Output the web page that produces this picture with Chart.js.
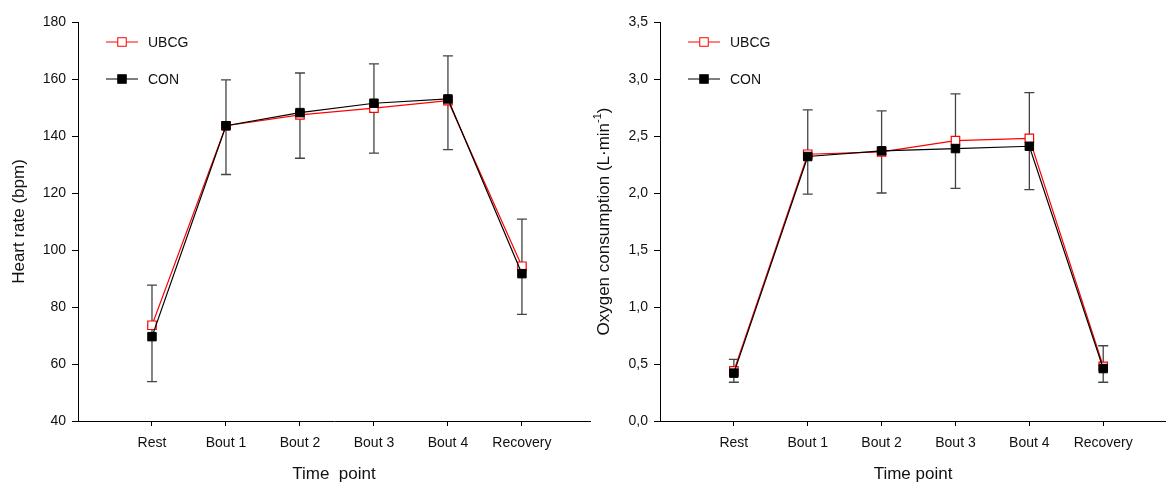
<!DOCTYPE html>
<html>
<head>
<meta charset="utf-8">
<script src="https://cdn.jsdelivr.net/npm/chart.js@4.4.1/dist/chart.umd.min.js"></script>
<style>
    html, body { margin: 0; padding: 0; background: #fff; }
    body { width: 1166px; height: 485px; position: relative; overflow: hidden; }
    .panel { position: absolute; top: 0; height: 485px; }
    #panelHr { left: 0; width: 600px; }
    #panelVo2 { left: 583px; width: 583px; }
</style>
</head>
<body>
<div class="panel" id="panelHr"><canvas id="graficoHr" width="600" height="485"></canvas></div>
<div class="panel" id="panelVo2"><canvas id="graficoVo2" width="583" height="485"></canvas></div>
<script>
const timePoints = ['Rest', 'Bout 1', 'Bout 2', 'Bout 3', 'Bout 4', 'Recovery'];
const seriesNames = ['UBCG', 'CON'];

// heart rate (bpm)
const hrUbcg = [73.6, 143.6, 147.4, 149.8, 152.4, 94.3];
const hrCon = [69.6, 143.6, 148.2, 151.5, 153.0, 91.7];
const hrErrHigh = [87.7, 159.7, 162.1, 165.3, 168.1, 110.8];
const hrErrLow = [53.8, 126.5, 132.2, 134.0, 135.2, 77.4];
const hrTicks = [40, 60, 80, 100, 120, 140, 160, 180];

// oxygen consumption (L/min)
const vo2Ubcg = [0.44, 2.34, 2.36, 2.46, 2.48, 0.48];
const vo2Con = [0.42, 2.32, 2.37, 2.39, 2.41, 0.46];
const vo2ErrHigh = [0.54, 2.73, 2.72, 2.87, 2.88, 0.66];
const vo2ErrLow = [0.34, 1.99, 2.00, 2.04, 2.03, 0.34];
const vo2Ticks = [0, 0.5, 1.0, 1.5, 2.0, 2.5, 3.0, 3.5];

const FONT = "'Liberation Sans', Arial, sans-serif";
const TEXT = '#111';

const errorBarsPlugin = {
    id: 'errorBars',
    beforeDatasetsDraw(chart, args, opts) {
        const { ctx, scales } = chart;
        ctx.save();
        ctx.strokeStyle = '#444';
        ctx.lineWidth = 1.3;
        opts.high.forEach((hi, i) => {
            const px = scales.x.getPixelForValue(i);
            const top = scales.y.getPixelForValue(hi);
            const bot = scales.y.getPixelForValue(opts.low[i]);
            ctx.beginPath();
            ctx.moveTo(px, top);
            ctx.lineTo(px, bot);
            ctx.moveTo(px - 5, top);
            ctx.lineTo(px + 5, top);
            ctx.moveTo(px - 5, bot);
            ctx.lineTo(px + 5, bot);
            ctx.stroke();
        });
        ctx.restore();
    },
};

const sideLegendPlugin = {
    id: 'sideLegend',
    afterDraw(chart) {
        const { ctx, chartArea } = chart;
        ctx.save();
        seriesNames.forEach((name, i) => {
            const ds = chart.data.datasets.find((d) => d.label === name);
            const y = 42 + i * 37;
            const x0 = chartArea.left + 28;
            ctx.strokeStyle = ds.borderColor;
            ctx.lineWidth = 1;
            ctx.beginPath();
            ctx.moveTo(x0, y);
            ctx.lineTo(x0 + 32, y);
            ctx.stroke();
            const s = 8.5;
            ctx.fillStyle = ds.pointBackgroundColor;
            ctx.fillRect(x0 + 16 - s / 2, y - s / 2, s, s);
            ctx.strokeRect(x0 + 16 - s / 2, y - s / 2, s, s);
            ctx.fillStyle = TEXT;
            ctx.font = '14px ' + FONT;
            ctx.textBaseline = 'middle';
            ctx.fillText(name, x0 + 42, y + 1);
        });
        ctx.restore();
    },
};

const yTitlePlugin = {
    id: 'yTitle',
    afterDraw(chart, args, opts) {
        const { ctx, chartArea } = chart;
        const cy = (chartArea.top + chartArea.bottom) / 2;
        ctx.save();
        ctx.translate(opts.x, cy);
        ctx.rotate(-Math.PI / 2);
        ctx.fillStyle = TEXT;
        ctx.textBaseline = 'middle';
        const main = '17px ' + FONT;
        const sup = '11px ' + FONT;
        let total = 0;
        opts.parts.forEach((p) => {
            ctx.font = p.sup ? sup : main;
            total += ctx.measureText(p.text).width;
        });
        let x = -total / 2;
        opts.parts.forEach((p) => {
            ctx.font = p.sup ? sup : main;
            ctx.fillText(p.text, x, p.sup ? -6 : 0);
            x += ctx.measureText(p.text).width;
        });
        ctx.restore();
    },
};

function toPoints(values) {
    return values.map((v, i) => ({ x: i, y: v }));
}

function buildChart(canvasId, cfg) {
    return new Chart(document.getElementById(canvasId).getContext('2d'), {
        type: 'line',
        data: {
            datasets: [
                {
                    label: 'UBCG',
                    data: toPoints(cfg.ubcg),
                    borderColor: '#ff0000',
                    backgroundColor: '#ffffff',
                    pointBackgroundColor: '#ffffff',
                    pointBorderColor: '#ff0000',
                    borderWidth: 1.2,
                    pointStyle: 'rect',
                    pointRadius: 6,
                    pointBorderWidth: 1.2,
                    order: 1,
                },
                {
                    label: 'CON',
                    data: toPoints(cfg.con),
                    borderColor: '#000000',
                    backgroundColor: '#000000',
                    pointBackgroundColor: '#000000',
                    pointBorderColor: '#000000',
                    borderWidth: 1.2,
                    pointStyle: 'rect',
                    pointRadius: 6,
                    pointBorderWidth: 1,
                    order: 0,
                },
            ],
        },
        options: {
            responsive: false,
            animation: false,
            devicePixelRatio: 1,
            layout: {
                autoPadding: false,
                padding: { top: 22, right: cfg.padRight, left: 0, bottom: 0 },
            },
            plugins: {
                legend: { display: false },
                tooltip: { enabled: false },
                errorBars: { high: cfg.errHigh, low: cfg.errLow },
                yTitle: { x: cfg.titleX, parts: cfg.yTitle },
            },
            scales: {
                x: {
                    type: 'linear',
                    min: -1,
                    max: cfg.xMax,
                    afterFit: (s) => {
                        s.height = 64;
                        s.paddingLeft = 0;
                        s.paddingRight = 0;
                    },
                    afterBuildTicks: (s) => { s.ticks = timePoints.map((_, i) => ({ value: i })); },
                    border: { color: '#000', width: 1 },
                    grid: { drawOnChartArea: false, drawTicks: true, tickLength: 5, color: '#000' },
                    ticks: {
                        color: TEXT,
                        font: { family: FONT, size: 14 },
                        padding: 9,
                        maxRotation: 0,
                        callback: (v) => timePoints[v],
                    },
                    title: {
                        display: true,
                        text: cfg.xTitle,
                        color: TEXT,
                        font: { family: FONT, size: 17 },
                        padding: 0,
                    },
                },
                y: {
                    min: cfg.ticks[0],
                    max: cfg.ticks[cfg.ticks.length - 1],
                    afterFit: (s) => { s.width = cfg.yWidth; },
                    afterBuildTicks: (s) => { s.ticks = cfg.ticks.map((v) => ({ value: v })); },
                    border: { color: '#000', width: 1 },
                    grid: { drawOnChartArea: false, drawTicks: true, tickLength: 6, color: '#000' },
                    ticks: {
                        color: TEXT,
                        font: { family: FONT, size: 14 },
                        padding: 6,
                        callback: cfg.fmt,
                    },
                },
            },
        },
        plugins: [errorBarsPlugin, sideLegendPlugin, yTitlePlugin],
    });
}

buildChart('graficoHr', {
    ubcg: hrUbcg,
    con: hrCon,
    errHigh: hrErrHigh,
    errLow: hrErrLow,
    ticks: hrTicks,
    fmt: (v) => String(v),
    xTitle: 'Time  point',
    yTitle: [{ text: 'Heart rate (bpm)' }],
    titleX: 19,
    yWidth: 78,
    padRight: 10,
    xMax: 5.92,
});

buildChart('graficoVo2', {
    ubcg: vo2Ubcg,
    con: vo2Con,
    errHigh: vo2ErrHigh,
    errLow: vo2ErrLow,
    ticks: vo2Ticks,
    fmt: (v) => v.toFixed(1).replace('.', ','),
    xTitle: 'Time point',
    yTitle: [{ text: 'Oxygen consumption (L\u00b7min' }, { text: '-1', sup: true }, { text: ')' }],
    titleX: 21,
    yWidth: 77,
    padRight: 0,
    xMax: 5.85,
});
</script>
</body>
</html>
